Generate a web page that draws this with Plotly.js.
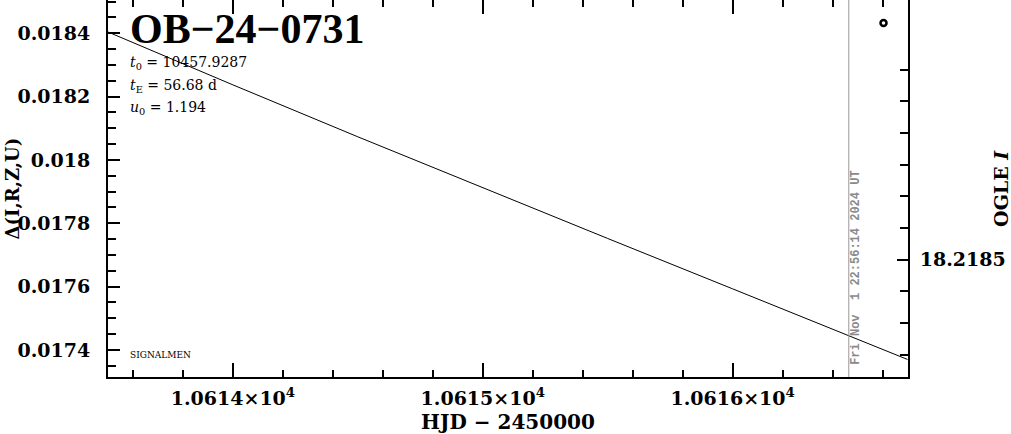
<!DOCTYPE html>
<html>
<head>
<meta charset="utf-8">
<script src="https://cdn.plot.ly/plotly-3.0.1.min.js"></script>
<style>
  html, body { margin: 0; padding: 0; background: #fff; }
  #chart { width: 1011px; height: 434px; }
</style>
</head>
<body>
<div id="chart"></div>
<script>
// ---- data ----
const eventName = "OB\u221224\u22120731";
const t0 = "10457.9287";
const tE = "56.68";
const u0 = "1.194";
const nowHJD = 10616.465;
const nowLabel = "Fri Nov&nbsp;&nbsp;1 22:56:14 2024 UT";

const modelHJD   = [10613.5, 10614.0, 10614.5, 10615.0, 10615.5, 10616.0, 10616.5, 10616.7];
const modelDelta = [0.018404, 0.018237, 0.018073, 0.017912, 0.017752, 0.017593, 0.017432, 0.017370];

const obsHJD   = [10616.604];
const obsDelta = [0.0184325];

const magMajorTicks = [18.2185];
const magMinorTicks = [18.2179, 18.2180, 18.2181, 18.2182, 18.2183, 18.2184, 18.2186, 18.2187, 18.2188];

const xRange = [10613.5, 10616.702];
const yRange = [0.0173146, 0.018505];
const magRange = [18.21887, 18.21768];

// ---- drawing ----
const labelFont = {family: "DejaVu Serif", size: 19, color: "#000", weight: "bold"};
const textFont  = {family: "DejaVu Serif", size: 14, color: "#000"};

const traces = [
  {
    x: modelHJD, y: modelDelta, type: "scatter", mode: "lines",
    line: {color: "#000", width: 1}, hoverinfo: "skip", showlegend: false
  },
  {
    x: obsHJD, y: obsDelta, type: "scatter", mode: "markers",
    marker: {symbol: "circle-open", size: 6, color: "#000", line: {width: 2.5, color: "#000"}},
    showlegend: false
  },
  {
    x: [], y: [], yaxis: "y2", type: "scatter", showlegend: false
  }
];

const layout = {
  width: 1011, height: 434,
  margin: {l: 108, r: 103, t: 0, b: 57},
  paper_bgcolor: "#fff", plot_bgcolor: "#fff",
  showlegend: false,
  xaxis: {
    range: xRange, showgrid: false, zeroline: false,
    showline: true, linecolor: "#000", linewidth: 2, mirror: "ticks",
    ticks: "inside", ticklen: 14, tickwidth: 2, tickcolor: "#000",
    tick0: 10614, dtick: 1,
    exponentformat: "power", showexponent: "all",
    minor: {dtick: 0.2, ticks: "inside", ticklen: 7, tickwidth: 2, tickcolor: "#000"},
    tickfont: labelFont, ticklabelstandoff: 3,
    title: {text: "HJD \u2212 2450000", font: {family: "DejaVu Serif", size: 20, color: "#000", weight: "bold"}, standoff: 14}
  },
  yaxis: {
    range: yRange, showgrid: false, zeroline: false,
    showline: true, linecolor: "#000", linewidth: 2, mirror: true,
    ticks: "inside", ticklen: 12, tickwidth: 2, tickcolor: "#000",
    tick0: 0.0174, dtick: 0.0002,
    minor: {dtick: 0.00005, ticks: "inside", ticklen: 7.5, tickwidth: 2, tickcolor: "#000"},
    tickfont: labelFont, ticklabelstandoff: 12
  },
  yaxis2: {
    overlaying: "y", side: "right", range: magRange,
    showgrid: false, zeroline: false, showline: true, linecolor: "#000", linewidth: 2,
    ticks: "inside", ticklen: 11, tickwidth: 2, tickcolor: "#000",
    tickmode: "array", tickvals: magMajorTicks, ticktext: magMajorTicks.map(v => v.toFixed(4)),
    minor: {tickmode: "array", tickvals: magMinorTicks, ticks: "inside", ticklen: 8, tickwidth: 2, tickcolor: "#000"},
    tickfont: labelFont, ticklabelstandoff: 6
  },
  shapes: [
    {type: "line", xref: "x", yref: "paper", x0: nowHJD, x1: nowHJD, y0: 0, y1: 1,
     line: {color: "#999", width: 1}}
  ],
  annotations: [
    {xref: "paper", yref: "paper", x: 0.025, y: 0.923, xanchor: "left", yanchor: "middle",
     text: eventName, showarrow: false,
     font: {family: "Liberation Serif", size: 42, color: "#000", weight: "bold"}},
    {xref: "paper", yref: "paper", x: 0.025, y: 1 - 63/377, xanchor: "left", yanchor: "middle",
     text: "<i>t</i><sub>0</sub> = " + t0, showarrow: false, font: textFont},
    {xref: "paper", yref: "paper", x: 0.025, y: 1 - 86/377, xanchor: "left", yanchor: "middle",
     text: "<i>t</i><sub>E</sub> = " + tE + " d", showarrow: false, font: textFont},
    {xref: "paper", yref: "paper", x: 0.025, y: 1 - 108/377, xanchor: "left", yanchor: "middle",
     text: "<i>u</i><sub>0</sub> = " + u0, showarrow: false, font: textFont},
    {xref: "paper", yref: "paper", x: 0.025, y: 0.058, xanchor: "left", yanchor: "middle",
     text: "SIGNALMEN", showarrow: false,
     font: {family: "DejaVu Serif", size: 9, color: "#000"}},
    {xref: "x", yref: "paper", x: nowHJD, xshift: 7, y: 0.289, xanchor: "center", yanchor: "middle",
     text: nowLabel, textangle: -90, showarrow: false,
     font: {family: "Liberation Mono", size: 12, color: "#8a8a8a", weight: "bold"}},
    {xref: "paper", yref: "paper", x: -0.12, y: 0.5, xanchor: "center", yanchor: "middle",
     text: "\u0394(I,R,Z,U)", textangle: -90, showarrow: false,
     font: {family: "DejaVu Serif", size: 18, color: "#000", weight: "bold"}},
    {xref: "paper", yref: "paper", x: 1.116, y: 0.501, xanchor: "center", yanchor: "middle",
     text: "OGLE <i>I</i>", textangle: -90, showarrow: false,
     font: {family: "DejaVu Serif", size: 19, color: "#000", weight: "bold"}}
  ]
};

Plotly.newPlot("chart", traces, layout, {staticPlot: true, displayModeBar: false});
</script>
</body>
</html>
